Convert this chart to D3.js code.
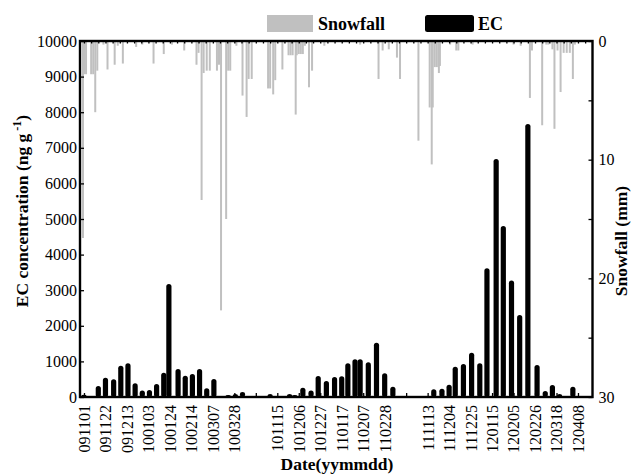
<!DOCTYPE html>
<html>
<head>
<meta charset="utf-8">
<script src="https://cdn.jsdelivr.net/npm/d3@7"></script>
<style>
  body { margin: 0; background: #fff; }
  svg text { font-family: "Liberation Serif", "Times New Roman", Times, serif !important; fill: #000; }
</style>
</head>
<body>
<svg id="chart" width="633" height="475"></svg>
<script>
// Winter sampling seasons; each one starts at a fixed position on the compressed time axis
const seasonStarts  = ["091101", "101115", "111113"];
const seasonOffsets = [0, 189, 336];

// Bottom axis labels, one per 21-day tick ("" = unlabeled tick)
const tickLabels = ["091101","091122","091213","100103","100124","100214","100307","100328","",
                    "101115","101206","101227","110117","110207","110228","",
                    "111113","111204","111225","120115","120205","120226","120318","120408"];

// EC concentration in snow samples (ng g-1)
const ecDates = [
  "091101","091115","091122","091130","091207","091214","091221","091228","100104","100111",
  "100118","100123","100201","100208","100215","100222","100301","100308","100315","100322",
  "100329","100405",
  "101108","101127","101202","101210","101218","101225","110102","110110","110117","110123",
  "110130","110204","110212","110220","110228","110308",
  "111119","111127","111204","111210","111218","111226","120103","120110","120119","120126",
  "120203","120211","120219","120228","120307","120314","120321","120403"
];
const ecValues = [
  60, 310, 540, 500, 880, 945, 385, 180, 200, 365,
  680, 3175, 785, 600, 645, 785, 245, 505, 25, 55,
  85, 140,
  85, 85, 55, 260, 180, 590, 450, 560, 580, 945,
  1060, 1060, 975, 1525, 665, 290,
  215, 235, 345, 850, 925, 1245, 945, 3615, 6685, 4800,
  3270, 2300, 7670, 900, 170, 335, 85, 290
];

// Daily snowfall (mm)
const snowDates = [
  "091031","091101","091103","091108","091110","091112","091114","091120","091124","091201",
  "091204","091209","091222","091228","100108","100118","100126","100207","100219","100221",
  "100224","100226","100301","100304","100311","100313","100315","100320","100322","100324",
  "100330","100405","100409","100411","100414",
  "101106","101108","101111","101113","101120","101126","101128","101130","101203","101204",
  "101206","101208","101210","101212","101216","101219","101231","110204","110222","110226",
  "110304","110312","110315",
  "111104","111115","111117","111118","111120","111122","111124","111125","111205","111211",
  "111213","111227","120205","120212","120221","120223","120304","120308","120310","120314",
  "120316","120319","120322","120325","120328","120331","120403","120405"
];
const snowValues = [
  16.6, 2.8, 2.8, 2.8, 2.8, 6.0, 2.5, 0.3, 2.4, 2.0,
  0.4, 1.9, 0.5, 0.3, 1.9, 1.1, 0.3, 0.8, 2.0, 1.0,
  13.4, 2.7, 2.5, 2.5, 2.5, 2.0, 22.7, 15.0, 2.5, 2.5,
  0.4, 4.6, 6.4, 3.2, 3.2,
  4.0, 4.0, 4.5, 3.3, 2.4, 1.2, 1.2, 1.2, 6.2, 1.2,
  1.1, 1.1, 1.1, 0.4, 3.9, 2.5, 0.4, 0.3, 3.2, 0.8,
  0.7, 1.4, 3.2,
  8.4, 5.6, 10.4, 5.6, 2.2, 2.2, 2.7, 2.1, 0.3, 0.8,
  0.8, 0.3, 0.3, 0.4, 4.8, 0.8, 7.1, 0.3, 0.3, 0.7,
  7.4, 0.8, 4.3, 1.0, 1.0, 1.0, 3.2, 0.3
];

const parse = d3.utcParse("%y%m%d");
const starts = seasonStarts.map(parse);

// Position of a date on the compressed axis: days from the nearest season start
function pos(s) {
  const d = parse(s);
  let best = 0;
  starts.forEach((st, i) => {
    if (Math.abs(d - st) < Math.abs(d - starts[best])) best = i;
  });
  return seasonOffsets[best] + Math.round((d - starts[best]) / 864e5);
}

const L = 80, R = 592.5, T = 41, B = 397;
const FONT = '"Liberation Serif", "Times New Roman", Times, serif';
const svg = d3.select("#chart");

const x = d3.scaleLinear().domain([-3.9, 497.2]).range([L, R]);
const yEC = d3.scaleLinear().domain([0, 10000]).range([B, T]);
const ySnow = d3.scaleLinear().domain([0, 30]).range([T, B]);

// Snowfall bars hang from the top edge
svg.append("g").selectAll("rect")
  .data(snowDates.map((d, i) => ({ p: pos(d), v: snowValues[i] })))
  .join("rect")
  .attr("x", d => x(d.p) - 1)
  .attr("width", 2)
  .attr("y", ySnow(0))
  .attr("height", d => ySnow(d.v) - ySnow(0))
  .attr("fill", "#c0c0c0");

// EC bars rise from the bottom
svg.append("g").selectAll("rect")
  .data(ecDates.map((d, i) => ({ p: pos(d), v: ecValues[i] })))
  .join("rect")
  .attr("x", d => x(d.p) - 2.6)
  .attr("width", 5.2)
  .attr("y", d => yEC(d.v))
  .attr("height", d => yEC(0) - yEC(d.v))
  .attr("rx", 2.6)
  .attr("fill", "#000");

// Left axis (EC)
const leftAxis = svg.append("g").attr("transform", `translate(${L},0)`)
  .call(d3.axisLeft(yEC).tickValues(d3.range(0, 10001, 1000)).tickSize(-4).tickPadding(3).tickFormat(d3.format("d")));
// Right axis (snowfall)
const rightAxis = svg.append("g").attr("transform", `translate(${R},0)`)
  .call(d3.axisRight(ySnow).tickValues(d3.range(0, 31, 5)).tickSize(-4).tickPadding(6)
    .tickFormat(d => d % 10 === 0 ? d : ""));
// Bottom axis (dates)
const tickPos = tickLabels.map((_, i) => i * 21);
const bottomAxis = svg.append("g").attr("transform", `translate(0,${B})`)
  .call(d3.axisBottom(x).tickValues(tickPos).tickSize(-4).tickPadding(0)
    .tickFormat((d, i) => tickLabels[i]));
bottomAxis.selectAll("text")
  .attr("transform", "rotate(-90)")
  .attr("text-anchor", "end")
  .attr("x", -8)
  .attr("y", 0)
  .attr("dy", "0.34em");
// Top edge with weekly minor ticks
const topAxis = svg.append("g").attr("transform", `translate(0,${T})`)
  .call(d3.axisTop(x).tickValues(d3.range(0, 494, 7)).tickSize(-2.5).tickFormat(""));

[leftAxis, rightAxis, bottomAxis, topAxis].forEach(g => {
  g.attr("font-family", FONT).attr("font-size", 16);
  g.select(".domain").remove();
  g.selectAll(".tick line").attr("stroke", "#000").attr("stroke-width", 1.3);
  g.selectAll("text").attr("font-size", 16).style("font-family", FONT);
});

// Frame
svg.append("rect")
  .attr("x", L).attr("y", T).attr("width", R - L).attr("height", B - T)
  .attr("fill", "none").attr("stroke", "#000").attr("stroke-width", 2.4);

// Axis titles
svg.append("text")
  .attr("transform", "translate(28,211) rotate(-90)")
  .attr("text-anchor", "middle")
  .attr("font-size", 17.5).attr("font-weight", "bold")
  .call(t => {
    t.append("tspan").text("EC concentration (ng  g");
    t.append("tspan").attr("font-size", 12).attr("dy", -7).text(" -1");
    t.append("tspan").attr("dy", 7).text(")");
  });

svg.append("text")
  .attr("transform", "translate(627,241) rotate(-90)")
  .attr("text-anchor", "middle")
  .attr("font-size", 17.5).attr("font-weight", "bold")
  .text("Snowfall (mm)");

svg.append("text")
  .attr("x", 337).attr("y", 470)
  .attr("text-anchor", "middle")
  .attr("font-size", 17.5).attr("font-weight", "bold")
  .text("Date(yymmdd)");

// Legend
const legend = svg.append("g");
legend.append("rect").attr("x", 267).attr("y", 15).attr("width", 46).attr("height", 17).attr("fill", "#c0c0c0");
legend.append("text").attr("x", 318).attr("y", 30).attr("font-size", 18).attr("font-weight", "bold").text("Snowfall");
legend.append("rect").attr("x", 425).attr("y", 15).attr("width", 49).attr("height", 17).attr("rx", 2.5).attr("fill", "#000");
legend.append("text").attr("x", 478).attr("y", 30).attr("font-size", 18).attr("font-weight", "bold").text("EC");
</script>
</body>
</html>
